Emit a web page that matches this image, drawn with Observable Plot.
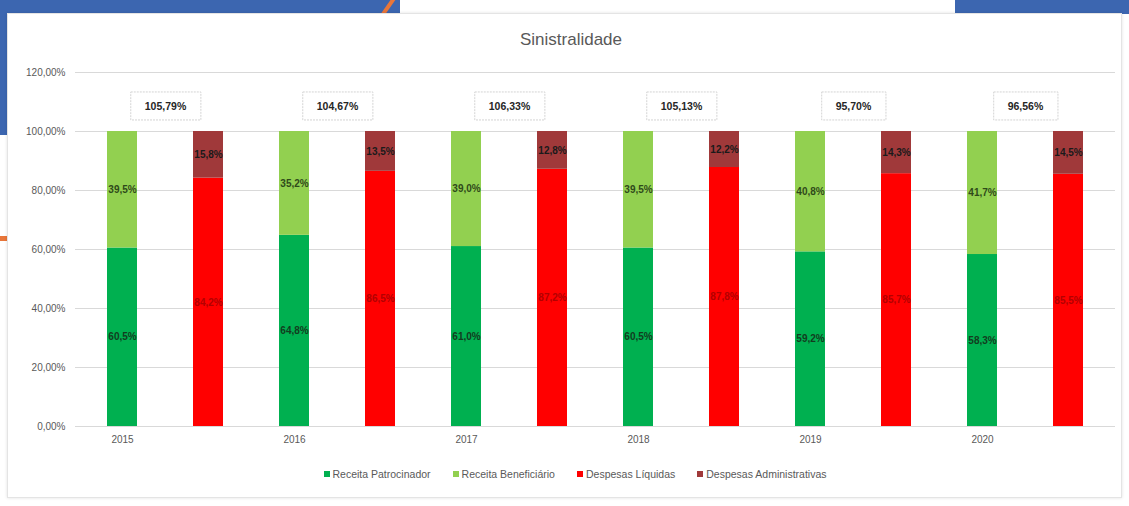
<!DOCTYPE html>
<html>
<head>
<meta charset="utf-8">
<script src="https://cdn.jsdelivr.net/npm/d3@7"></script>
<script src="https://cdn.jsdelivr.net/npm/@observablehq/plot@0.6"></script>
<style>
  html, body { margin: 0; padding: 0; background: #fff; }
  #page { position: relative; width: 1129px; height: 506px; overflow: hidden; background: #fff;
          font-family: "Liberation Sans Narrow", "Arial Narrow", "Liberation Sans", Arial, sans-serif; }
  .deco { position: absolute; }
  #card { position: absolute; left: 7px; top: 13px; width: 1113px; height: 483px; background: #fff;
          border: 1px solid #e4e4e4; box-shadow: 0 0 3px rgba(0,0,0,0.12); }
  #title { position: absolute; top: 30px; left: 0; width: 1142px; text-align: center;
           font-size: 17px; color: #595959; }
  #chart { position: absolute; top: 60px; left: 0; }
  #legend { position: absolute; top: 468px; left: 0; width: 1150px; display: flex; justify-content: center;
            gap: 22px; font-size: 10.5px; color: #595959; }
  #legend span.sw { display: inline-block; width: 6px; height: 6px; margin-right: 3px; vertical-align: 1px; }
</style>
</head>
<body>
<div id="page">
  <div class="deco" style="left:0;top:0;width:400px;height:135px;background:#3c66b0;border-bottom-right-radius:60px;"></div>
  <div class="deco" style="left:386px;top:-6px;width:4px;height:26px;background:#e8763a;transform:rotate(35deg);"></div>
  <div class="deco" style="left:955px;top:0;width:174px;height:14px;background:#3c66b0;"></div>
  <div class="deco" style="left:0;top:236px;width:7px;height:5px;background:#e8763a;"></div>
  <div id="card"></div>
  <div id="title">Sinistralidade</div>
  <div id="chart"></div>
  <div id="legend"></div>
</div>
<script>
const years = ["2015", "2016", "2017", "2018", "2019", "2020"];
const receitaPatrocinador = [60.5, 64.8, 61.0, 60.5, 59.2, 58.3];
const receitaBeneficiario = [39.5, 35.2, 39.0, 39.5, 40.8, 41.7];
const despesasLiquidas = [84.2, 86.5, 87.2, 87.8, 85.7, 85.5];
const despesasAdministrativas = [15.8, 13.5, 12.8, 12.2, 14.3, 14.5];
const sinistralidadeTotal = [105.79, 104.67, 106.33, 105.13, 95.70, 96.56];
const yTicks = [0, 20, 40, 60, 80, 100, 120];
const seriesNames = ["Receita Patrocinador", "Receita Beneficiário", "Despesas Líquidas", "Despesas Administrativas"];
const seriesColors = ["#00b050", "#92d050", "#ff0000", "#a0393a"];
const labelColors = ["#123d1f", "#2f4a1a", "#b30000", "#1a1a1a"];

const slots = years.flatMap(y => [y + "R", y + "D"]);
const rows = [];
years.forEach((y, i) => {
  rows.push({slot: y + "R", series: seriesNames[0], value: receitaPatrocinador[i]});
  rows.push({slot: y + "R", series: seriesNames[1], value: receitaBeneficiario[i]});
  rows.push({slot: y + "D", series: seriesNames[2], value: despesasLiquidas[i]});
  rows.push({slot: y + "D", series: seriesNames[3], value: despesasAdministrativas[i]});
});
const totals = years.map((y, i) => ({slot: y + "R", value: sinistralidadeTotal[i]}));

const comma = (v, d) => v.toFixed(d).replace(".", ",");
const labelColor = new Map(seriesNames.map((s, i) => [s, labelColors[i]]));

const chart = Plot.plot({
  width: 1129,
  height: 400,
  marginTop: 12,
  marginBottom: 34,
  marginLeft: 75,
  marginRight: 14,
  style: {fontFamily: '"Liberation Sans Narrow", "Arial Narrow", "Liberation Sans", Arial, sans-serif', fontSize: "10px", color: "#595959", background: "transparent"},
  x: {domain: slots, paddingInner: 0.65, paddingOuter: 0.33, label: null, tickSize: 0, tickPadding: 9,
      tickFormat: d => d.endsWith("R") ? d.slice(0, 4) : ""},
  y: {domain: [0, 120], ticks: yTicks, label: null, tickSize: 0, tickPadding: 10,
      tickFormat: d => comma(d, 2) + "%"},
  color: {domain: seriesNames, range: seriesColors},
  marks: [
    Plot.ruleY(yTicks, {stroke: "#d9d9d9", strokeWidth: 1}),
    Plot.barY(rows, {x: "slot", y: "value", fill: "series"}),
    Plot.text(rows, Plot.stackY({x: "slot", y: "value", text: d => comma(d.value, 1) + "%",
      fill: d => labelColor.get(d.series), fontWeight: "bold", fontSize: 10})),
    Plot.text(totals, {x: "slot", text: d => comma(d.value, 2) + "%", frameAnchor: "top", dy: 30, dx: 43,
      fill: "#262626", fontWeight: "bold", fontSize: 10.5})
  ]
});
document.getElementById("chart").appendChild(chart);

// boxes behind the total labels
d3.select(chart).selectAll('g[aria-label="text"] text').each(function() {
  const t = this.textContent;
  if (!/,\d\d%$/.test(t)) return;
  const bb = this.getBBox();
  const tr = this.getAttribute("transform");
  const r = document.createElementNS("http://www.w3.org/2000/svg", "rect");
  r.setAttribute("x", bb.x - 14);
  r.setAttribute("y", bb.y - 8);
  r.setAttribute("width", bb.width + 28);
  r.setAttribute("height", bb.height + 16);
  r.setAttribute("fill", "#fff");
  r.setAttribute("stroke", "#d4d4d4");
  r.setAttribute("stroke-dasharray", "2,1");
  if (tr) r.setAttribute("transform", tr);
  this.parentNode.insertBefore(r, this);
});

// legend
const legend = d3.select("#legend");
seriesNames.forEach((s, i) => {
  const item = legend.append("div");
  item.append("span").attr("class", "sw").style("background", seriesColors[i]);
  item.append("span").text(s);
});
</script>
</body>
</html>
